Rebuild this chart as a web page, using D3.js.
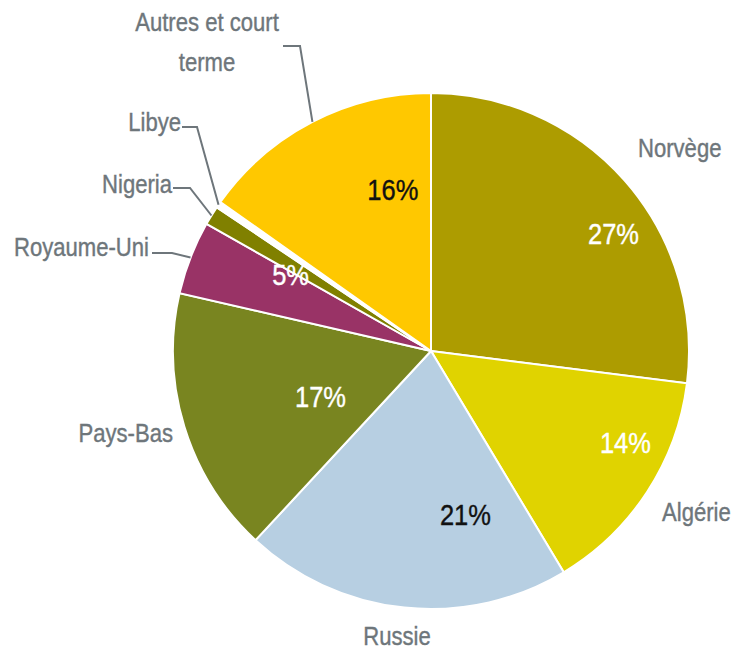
<!DOCTYPE html>
<html>
<head>
<meta charset="utf-8">
<script src="https://cdn.jsdelivr.net/npm/d3@7"></script>
<style>
  body { margin: 0; background: #fff; }
  svg text { font-family: "Liberation Sans", Arial, sans-serif; }
</style>
</head>
<body>
<svg width="738" height="650"></svg>
<script>
// supply shares (%), clockwise from 12 o'clock
const countries = ['Norvège', 'Algérie', 'Russie', 'Pays-Bas', 'Royaume-Uni', 'Nigeria', 'Libye', 'Autres et court terme'];
const shares = [27.0, 14.4, 20.5, 16.7, 4.6, 1.2, 0.4, 15.2];
const pctLabels = ['27%', '14%', '21%', '17%', '5%', '', '', '16%'];

const colors = ['#ad9c00', '#e0d300', '#b7cfe2', '#798520', '#993366', '#808000', '#ffffff', '#ffc800'];
const pctColors = ['#fff', '#fff', '#111', '#fff', '#fff', '#fff', '#fff', '#111'];

const cx = 431, cy = 351, R = 258;
const narrow = 0.85; // fake a narrow face

let svg = d3.select('svg');
let g = svg.append('g').attr('transform', 'translate(' + cx + ',' + cy + ')');

let pie = d3.pie().sort(null).value(function (d) { return d; });
let arcs = pie(shares);

let arc = d3.arc().innerRadius(0).outerRadius(R);
let edgeArc = d3.arc().innerRadius(R).outerRadius(R);
let labelArc = d3.arc().innerRadius(170).outerRadius(170);

g.selectAll('path')
    .data(arcs)
    .enter()
    .append('path')
    .attr('d', arc)
    .style('fill', function (d, i) { return colors[i]; })
    .style('stroke', '#fff')
    .style('stroke-width', 2);

// percent labels, nudged like the original layout
let nudges = [[55, -5], [52, -2], [52, -6], [52, -5], [18, -15], [0, 0], [0, 0], [40, -11]];

g.selectAll('text.pct')
    .data(arcs)
    .enter()
    .filter(function (d, i) { return pctLabels[i] !== ''; })
    .append('text')
    .attr('class', 'pct')
    .attr('transform', function (d) {
        let c = labelArc.centroid(d);
        return 'translate(' + (c[0] + nudges[d.index][0]) + ',' + (c[1] + nudges[d.index][1]) + ') scale(' + narrow + ',1)';
    })
    .attr('dy', '0.36em')
    .attr('text-anchor', 'middle')
    .style('font-size', '30px')
    .style('fill', function (d) { return pctColors[d.index]; })
    .style('stroke', function (d) { return pctColors[d.index]; })
    .style('stroke-width', 0.4)
    .text(function (d) { return pctLabels[d.index]; });

// category labels in page coords, leader elbow if any
let catLayout = [
    {x: 638, y: 157, anchor: 'start'},
    {x: 662, y: 521, anchor: 'start'},
    {x: 397, y: 645, anchor: 'middle'},
    {x: 173, y: 442, anchor: 'end'},
    {x: 149, y: 256, anchor: 'end', elbow: [172, 253], from: 152},
    {x: 172, y: 193, anchor: 'end', elbow: [190, 188], from: 173},
    {x: 181, y: 131, anchor: 'end', elbow: [197, 127], from: 182},
    {x: 207, y: 31, anchor: 'middle', lines: ['Autres et court', 'terme'], elbow: [300, 46], from: 283}
];

let gray = '#6e767b';

arcs.forEach(function (d, i) {
    let l = catLayout[i];
    let t = svg.append('text')
        .attr('transform', 'translate(' + l.x + ',' + l.y + ') scale(' + narrow + ',1)')
        .attr('text-anchor', l.anchor)
        .style('font-size', '26px')
        .style('fill', gray)
        .style('stroke', gray)
        .style('stroke-width', 0.4);
    if (l.lines) {
        l.lines.forEach(function (s, k) {
            t.append('tspan').attr('x', 0).attr('dy', k === 0 ? 0 : 40).text(s);
        });
    } else {
        t.text(countries[i]);
    }
    if (l.elbow) {
        let p = edgeArc.centroid(d);
        svg.append('polyline')
            .attr('points', [l.from, l.elbow[1], l.elbow[0], l.elbow[1], cx + p[0], cy + p[1]].join(' '))
            .style('fill', 'none')
            .style('stroke', gray)
            .style('stroke-width', 2);
    }
});
</script>
</body>
</html>
